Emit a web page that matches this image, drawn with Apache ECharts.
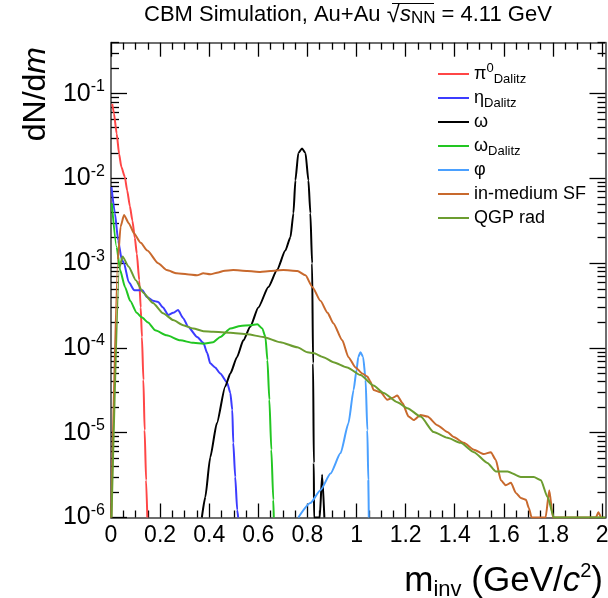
<!DOCTYPE html>
<html><head><meta charset="utf-8">
<script src="https://cdn.jsdelivr.net/npm/echarts@6/dist/echarts.min.js"></script>
<style>html,body{margin:0;padding:0;background:#fff}#c{width:608px;height:598px}</style>
</head><body><div id="c"></div>
<script>
const FONT = '"Liberation Sans", Arial, Helvetica, sans-serif';

// ---- tick labels ----
const xTickLabels = [0, 0.2, 0.4, 0.6, 0.8, 1, 1.2, 1.4, 1.6, 1.8, 2];
const yTickLabels = [1e-6, 1e-5, 1e-4, 1e-3, 1e-2, 1e-1];

// ---- series (x in GeV/c^2, y = dN/dm) ----
const pi0X = [0.005,0.012,0.023,0.033,0.042,0.056,0.066,0.077,0.087,0.097,0.105,0.115,0.121,0.126,0.132,0.137,0.143,0.148];
const pi0Y = [0.076,0.059,0.034,0.0195,0.0138,0.0105,0.0072,0.0047,0.0032,0.0020,0.0013,6.3e-4,3.0e-4,1.35e-4,4.2e-5,1.07e-5,2.75e-6,1.0e-6];

const etaX = [0.002,0.016,0.029,0.044,0.053,0.072,0.095,0.128,0.146,0.171,0.192,0.212,0.233,0.253,0.273,0.294,0.314,0.351,0.376,0.392,0.404,0.424,0.445,0.473,0.486,0.494,0.498,0.506,0.514,0.518];
const etaY = [7.9e-3,3.9e-3,1.86e-3,1.10e-3,1.0e-3,6.0e-4,4.8e-4,4.8e-4,4.0e-4,3.6e-4,3.5e-4,3.0e-4,2.45e-4,2.6e-4,2.8e-4,2.25e-4,1.78e-4,1.35e-4,1.15e-4,8.7e-5,6.6e-5,5.9e-5,5.0e-5,3.9e-5,2.95e-5,1.86e-5,7.6e-6,3.0e-6,1.23e-6,1.0e-6];

const omegaX = [0.370,0.384,0.404,0.431,0.465,0.486,0.513,0.539,0.567,0.600,0.641,0.676,0.710,0.731,0.743,0.751,0.763,0.778,0.792,0.804,0.812,0.819,0.823,0.826,0.827,0.850,0.860,0.869];
const omegaY = [1e-6,1.74e-6,5.1e-6,1.29e-5,3.5e-5,5.0e-5,7.8e-5,1.23e-4,1.78e-4,3.0e-4,5.25e-4,8.3e-4,1.41e-3,2.04e-3,3.9e-3,9.5e-3,0.020,0.0226,0.020,9.5e-3,3.9e-3,1.0e-3,6.6e-5,4.4e-6,1e-6,1e-6,3.2e-6,1e-6];

const omegaDX = [0.003,0.023,0.037,0.057,0.078,0.105,0.125,0.151,0.180,0.227,0.282,0.335,0.376,0.416,0.445,0.486,0.527,0.567,0.596,0.616,0.629,0.637,0.645,0.653,0.661,0.663];
const omegaDY = [5.1e-3,1.55e-3,8.3e-4,5.25e-4,3.6e-4,2.6e-4,2.3e-4,2.0e-4,1.62e-4,1.41e-4,1.23e-4,1.15e-4,1.12e-4,1.17e-4,1.35e-4,1.70e-4,1.82e-4,1.86e-4,1.91e-4,1.70e-4,1.35e-4,7.2e-5,2.45e-5,6.3e-6,1.62e-6,1.0e-6];

const phiX = [0.763,0.812,0.853,0.894,0.935,0.967,0.988,1.000,1.007,1.016,1.027,1.037,1.044,1.048,1.050];
const phiY = [1e-6,1.48e-6,2.1e-6,3.3e-6,5.75e-6,1.29e-5,3.2e-5,5.5e-5,7.8e-5,8.9e-5,7.8e-5,4.2e-5,1.07e-5,2.75e-6,1e-6];

const sfX = [0.001,0.028,0.039,0.053,0.073,0.094,0.121,0.148,0.192,0.227,0.268,0.309,0.350,0.376,0.404,0.437,0.457,0.498,0.555,0.608,0.649,0.702,0.759,0.792,0.820,0.853,0.882,0.906,0.942,0.967,0.996,1.023,1.044,1.057,1.069,1.098,1.125,1.146,1.166,1.187,1.212,1.233,1.261,1.289,1.329,1.370,1.396,1.437,1.478,1.518,1.547,1.567,1.588,1.608,1.629,1.649,1.669,1.690,1.702,1.713,1.770,1.785,1.800,1.975,1.985,1.995];
const sfY = [1e-6,1.1e-3,2.7e-3,3.7e-3,2.95e-3,2.24e-3,1.74e-3,1.41e-3,1.0e-3,8.3e-4,7.6e-4,7.4e-4,7.2e-4,7.6e-4,7.4e-4,7.8e-4,8.1e-4,8.3e-4,8.1e-4,7.9e-4,8.1e-4,8.3e-4,8.1e-4,7.2e-4,5.25e-4,3.6e-4,2.6e-4,1.95e-4,1.23e-4,7.8e-5,5.9e-5,5.0e-5,4.6e-5,4.0e-5,3.2e-5,3.0e-5,2.45e-5,2.57e-5,2.75e-5,2.24e-5,1.55e-5,1.41e-5,1.62e-5,1.55e-5,1.23e-5,1.02e-5,8.9e-6,7.6e-6,6.3e-6,5.6e-6,5.9e-6,4.8e-6,2.75e-6,2.4e-6,2.57e-6,1.95e-6,1.70e-6,1.62e-6,1.29e-6,1.0e-6,1.0e-6,2.1e-6,1.0e-6,1.0e-6,1.15e-6,1.0e-6];

const qgpX = [0.002,0.035,0.047,0.072,0.101,0.131,0.171,0.212,0.253,0.294,0.335,0.376,0.416,0.486,0.555,0.620,0.690,0.759,0.800,0.824,0.865,0.906,0.962,1.016,1.069,1.110,1.166,1.207,1.261,1.314,1.370,1.424,1.478,1.533,1.567,1.615,1.669,1.722,1.751,1.778,1.804,2.014];
const qgpY = [1e-6,9e-4,1.2e-3,9.1e-4,6.3e-4,4.5e-4,3.4e-4,2.57e-4,2.14e-4,1.86e-4,1.70e-4,1.58e-4,1.55e-4,1.51e-4,1.45e-4,1.35e-4,1.17e-4,1.02e-4,8.9e-5,8.7e-5,7.8e-5,6.8e-5,5.9e-5,4.8e-5,3.6e-5,2.95e-5,2.29e-5,1.95e-5,1.55e-5,1.02e-5,8.7e-6,7.6e-6,5.9e-6,4.4e-6,3.5e-6,3.5e-6,3.0e-6,3.0e-6,2.75e-6,1.74e-6,1.0e-6,1.0e-6];

const seriesKeys = ['pi0', 'eta', 'omega', 'omegaD', 'phi', 'sf', 'qgp'];
const seriesColors = ['#ff4646', '#3c3cff', '#000000', '#22c622', '#4aa0ff', '#c8692d', '#6c9d30'];
const seriesXs = [pi0X, etaX, omegaX, omegaDX, phiX, sfX, qgpX];
const seriesYs = [pi0Y, etaY, omegaY, omegaDY, phiY, sfY, qgpY];
const legendLabels = {
  pi0: '{n|π}{sup|0}{sub|Dalitz}',
  eta: '{n|η}{sub|Dalitz}',
  omega: '{n|ω}',
  omegaD: '{n|ω}{sub|Dalitz}',
  phi: '{n|φ}',
  sf: '{n|in-medium SF}',
  qgp: '{n|QGP rad}'
};

const X_MIN = 0, X_MAX = 2.014, Y_MIN = 1e-6, Y_MAX = 0.4;

// tick positions
const xMinor = [];
for (let i = 0; i <= 40; i++) { if (i % 4 !== 0) xMinor.push(+(i * 0.05).toFixed(2)); }
const yMinor = [];
for (let e = -6; e <= -1; e++) for (let k = 2; k <= 9; k++) { const v = k * Math.pow(10, e); if (v <= Y_MAX + 1e-12) yMinor.push(v); }

const frameLine = { show: true, onZero: false, lineStyle: { color: '#6e6e6e', width: 2 } };
const tickLine = { color: '#000', width: 1.3 };

function xAx(pos, values, len, showLine, showLabel) {
  return {
    type: 'value', position: pos, min: X_MIN, max: X_MAX,
    axisLine: showLine ? frameLine : { show: false, onZero: false },
    axisTick: { show: true, inside: true, length: len, customValues: values, lineStyle: tickLine },
    axisLabel: showLabel ? {
      show: true, customValues: xTickLabels, margin: 7, fontSize: 23, fontFamily: FONT, color: '#000',
      formatter: v => String(+(+v).toFixed(1))
    } : { show: false },
    splitLine: { show: false }
  };
}
function yAx(pos, values, len, showLine, showLabel) {
  return {
    type: 'log', logBase: 10, position: pos, min: Y_MIN, max: Y_MAX,
    axisLine: showLine ? frameLine : { show: false, onZero: false },
    axisTick: { show: true, inside: true, length: len, customValues: values, lineStyle: tickLine },
    axisLabel: showLabel ? {
      show: true, customValues: yTickLabels, margin: 6,
      formatter: v => { const e = Math.round(Math.log10(v)); return '{b|10}{s|' + (e < 0 ? '-' : '') + Math.abs(e) + '}'; },
      rich: {
        b: { fontSize: 25, lineHeight: 30, fontFamily: FONT, color: '#000' },
        s: { fontSize: 16, lineHeight: 16, verticalAlign: 'top', fontFamily: FONT, color: '#000' }
      }
    } : { show: false },
    splitLine: { show: false }
  };
}

const series = seriesKeys.map((k, i) => ({
  type: 'line', name: k, xAxisIndex: 0, yAxisIndex: 0,
  data: seriesXs[i].map((x, j) => [x, seriesYs[i][j]]),
  symbol: 'none', smooth: 0.2, smoothMonotone: 'x', clip: true,
  lineStyle: { width: 2, color: seriesColors[i] },
  itemStyle: { color: seriesColors[i] },
  emphasis: { disabled: true }, silent: true, animation: false
}));

const TITLE_STYLE = { fontWeight: 'normal', fontFamily: FONT, color: '#000' };
const chart = echarts.init(document.getElementById('c'), null, { renderer: 'canvas' });
chart.setOption({
  animation: false,
  backgroundColor: '#fff',
  grid: { left: 111, right: 2.5, top: 42.7, bottom: 80.5, containLabel: false, outerBoundsMode: 'none' },
  title: {
    text: '{n|CBM Simulation, Au+Au }{r|\u221A}{i|s}{sub|NN}{n| = 4.11 GeV}',
    left: 144, top: 3, padding: 0,
    textStyle: {
      fontWeight: 'normal',
      rich: {
        n: Object.assign({ fontSize: 22, lineHeight: 24 }, TITLE_STYLE),
        r: Object.assign({ fontSize: 24, lineHeight: 24 }, TITLE_STYLE),
        i: Object.assign({ fontSize: 22, lineHeight: 24, fontStyle: 'italic' }, TITLE_STYLE),
        sub: Object.assign({ fontSize: 17, lineHeight: 12, verticalAlign: 'bottom' }, TITLE_STYLE)
      }
    }
  },
  legend: {
    orient: 'vertical', left: 438, top: 62, padding: 0, itemGap: 0,
    icon: 'rect', itemWidth: 31, itemHeight: 2,
    data: seriesKeys,
    formatter: k => legendLabels[k],
    textStyle: {
      fontSize: 18, lineHeight: 24, fontFamily: FONT, color: '#000',
      rich: {
        n: { fontSize: 18, lineHeight: 24, fontFamily: FONT, color: '#000' },
        sub: { fontSize: 13, lineHeight: 10, verticalAlign: 'bottom', fontFamily: FONT, color: '#000' },
        sup: { fontSize: 13, lineHeight: 10, verticalAlign: 'top', fontFamily: FONT, color: '#000' }
      }
    }
  },
  xAxis: [
    xAx('bottom', xTickLabels, 14, true, true),
    xAx('bottom', xMinor, 7, false, false),
    xAx('top', xTickLabels, 14, true, false),
    xAx('top', xMinor, 7, false, false)
  ],
  yAxis: [
    yAx('left', yTickLabels, 16, true, true),
    yAx('left', yMinor, 8, false, false),
    yAx('right', yTickLabels, 16, true, false),
    yAx('right', yMinor, 8, false, false)
  ],
  graphic: [
    { type: 'line', shape: { x1: 392, y1: 3.5, x2: 434, y2: 3.5 }, style: { stroke: '#000', lineWidth: 1.2 } },
    {
      type: 'text', x: 36, y: 47, rotation: Math.PI / 2,
      style: {
        text: '{n|dN/d}{i|m}', align: 'right', textAlign: 'right', verticalAlign: 'middle', textVerticalAlign: 'middle',
        fill: '#000',
        rich: {
          n: { fontSize: 32, fontFamily: FONT, fill: '#000' },
          i: { fontSize: 32, fontStyle: 'italic', fontFamily: FONT, fill: '#000' }
        }
      }
    },
    {
      type: 'text', x: 603, y: 581,
      style: {
        text: '{n|m}{sub|inv}{n| (GeV/}{i|c}{sup|2}{n|)}', align: 'right', textAlign: 'right', verticalAlign: 'middle', textVerticalAlign: 'middle',
        fill: '#000',
        rich: {
          n: { fontSize: 35, lineHeight: 40, fontFamily: FONT, fill: '#000' },
          sub: { fontSize: 22, lineHeight: 14, verticalAlign: 'bottom', fontFamily: FONT, fill: '#000' },
          i: { fontSize: 35, lineHeight: 40, fontStyle: 'italic', fontFamily: FONT, fill: '#000' },
          sup: { fontSize: 20, lineHeight: 26, verticalAlign: 'top', fontFamily: FONT, fill: '#000' }
        }
      }
    }
  ],
  series: series
});
</script>
</body></html>
